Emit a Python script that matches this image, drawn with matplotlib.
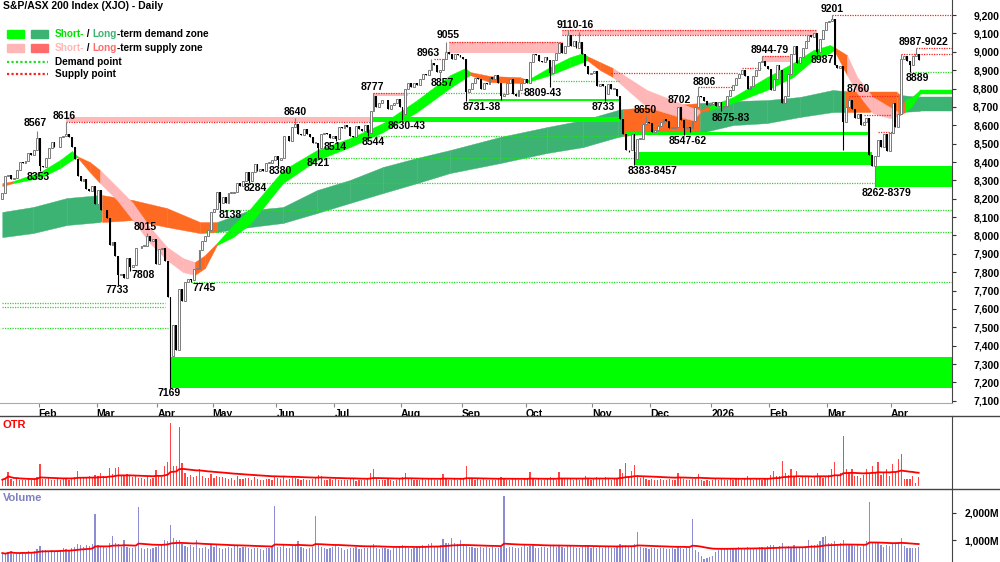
import numpy as np
import pandas as pd
import matplotlib
matplotlib.use('Agg')
import matplotlib.pyplot as plt
from matplotlib.patches import Rectangle
from matplotlib.lines import Line2D

plt.rcParams['font.family'] = ['Liberation Sans', 'DejaVu Sans']

# ---- trading calendar (ASX) ----
asx_holidays = ['2025-01-27', '2025-04-18', '2025-04-21', '2025-04-25', '2025-06-09',
                '2025-12-25', '2025-12-26', '2026-01-01', '2026-01-26', '2026-04-03', '2026-04-06']
dates = pd.bdate_range('2025-01-14', '2026-04-16')
dates = dates[~dates.isin(pd.to_datetime(asx_holidays))]

# ---- daily closes, month by month ----
jan25 = [8230, 8326, 8330, 8310, 8315, 8357, 8401, 8396, 8408, 8447, 8436, 8466, 8532]
feb25 = [8379, 8374, 8422, 8477, 8511, 8484, 8482, 8535, 8540, 8555, 8538, 8481, 8419, 8322, 8296,
         8307, 8251, 8240, 8269, 8172]
mar25 = [8245, 8141, 8140, 8095, 7948, 7963, 7890, 7786, 7789, 7770, 7880, 7830, 7840, 7933, 7931,
         7942, 7943, 7999, 7969, 7982, 7843]
apr25 = [7925, 7934, 7859, 7667, 7343, 7510, 7375, 7709, 7646, 7749, 7762, 7758, 7819, 7820, 7920,
         7969, 7997, 8031, 8126]
may25 = [8145, 8238, 8179, 8207, 8178, 8231, 8231, 8234, 8283, 8267, 8297, 8343, 8296, 8344, 8387,
         8350, 8361, 8352, 8395, 8395, 8409, 8434]
jun25 = [8411, 8423, 8541, 8539, 8515, 8588, 8608, 8550, 8548, 8581, 8550, 8535, 8504, 8505, 8474,
         8555, 8559, 8550, 8530, 8542]
jul25 = [8524, 8590, 8587, 8603, 8590, 8541, 8538, 8595, 8580, 8571, 8600, 8560, 8680, 8760, 8700,
         8720, 8740, 8738, 8690, 8710, 8720, 8742, 8700]
aug25 = [8662, 8800, 8830, 8810, 8830, 8820, 8850, 8880, 8875, 8900, 8940, 8930, 8890, 8900, 8960,
         9000, 8990, 8960, 8990, 8980, 8970]
sep25 = [8960, 8780, 8800, 8830, 8860, 8850, 8800, 8830, 8825, 8865, 8850, 8875, 8830, 8760, 8770,
         8830, 8850, 8770, 8760, 8790, 8830, 8850]
oct25 = [8828, 8945, 8988, 8983, 8952, 8945, 8970, 8958, 8882, 8955, 8995, 9050, 8995, 9032, 9094,
         9030, 9059, 9019, 9055, 8990, 8923, 8879, 8882]
nov25 = [8894, 8814, 8827, 8813, 8770, 8822, 8799, 8800, 8757, 8634, 8552, 8467, 8463, 8555, 8417,
         8526, 8526, 8607, 8617, 8614]
dec25 = [8565, 8575, 8595, 8620, 8634, 8624, 8585, 8585, 8592, 8697, 8630, 8585, 8588, 8585, 8621,
         8699, 8762, 8754, 8730, 8711, 8714]
jan26 = [8728, 8705, 8725, 8700, 8705, 8760, 8790, 8820, 8860, 8880, 8900, 8870, 8800, 8815, 8870,
         8900, 8945, 8950, 8925, 8905]
feb26 = [8790, 8850, 8930, 8900, 8720, 8760, 8880, 8990, 9030, 8940, 8970, 9020, 9060, 9090, 9080,
         9100, 9000, 9070, 9120, 9160]
mar26 = [9170, 9180, 8930, 8910, 8920, 8620, 8700, 8735, 8690, 8640, 8660, 8600, 8620, 8640, 8440,
         8380, 8430, 8520, 8480, 8550, 8460, 8560]
apr26 = [8720, 8590, 8660, 8960, 8975, 8950, 8930, 8975, 8990, 8955]
first_open = 8200

# labelled extremes (bar index -> price)
highs = {12: 8567, 22: 8616, 50: 8015, 101: 8640, 128: 8777, 148: 8963, 153: 9055, 195: 9116,
         199: 9110, 222: 8650, 233: 8702, 240: 8806, 262: 8979, 286: 9201, 292: 8760, 310: 8987, 315: 9022}
lows = {13: 8353, 40: 7733, 44: 7808, 58: 7169, 65: 7745, 75: 8138, 85: 8284, 95: 8380, 109: 8421,
        115: 8514, 126: 8544, 138: 8630, 151: 8857, 160: 8731, 172: 8738, 189: 8809, 208: 8733,
        216: 8457, 218: 8383, 235: 8547, 237: 8562, 248: 8675, 249: 8683, 281: 8987, 290: 8465,
        301: 8262, 313: 8889}

# ---- OTR (true range, points) ----
otr = (
    [55, 70, 120, 60, 45, 65, 50, 55, 48, 60, 52, 58, 75] +
    [190, 62, 58, 66, 55, 50, 60, 48, 58, 72, 55, 68, 80, 130, 75, 66, 70, 85, 78, 95] +
    [90, 110, 85, 80, 155, 100, 155, 165, 95, 88, 105, 90, 75, 88, 70, 65, 60, 78, 62, 70, 140] +
    [95, 80, 170, 205, 540, 170, 170, 505, 195, 110, 80, 95, 75, 90, 145, 85, 70, 65, 100] +
    [70, 90, 75, 80, 68, 60, 72, 55, 85, 62, 58, 70, 66, 50, 75, 60, 55, 48, 62, 58, 52, 80] +
    [65, 58, 90, 55, 60, 72, 68, 60, 50, 62, 55, 48, 58, 66, 95, 85, 52, 48, 60, 55] +
    [60, 55, 50, 48, 52, 62, 58, 45, 50, 55, 48, 60, 110, 145, 70, 55, 50, 48, 65, 52, 45, 50, 68] +
    [75, 110, 65, 58, 50, 55, 48, 60, 52, 58, 66, 50, 55, 62, 100, 70, 55, 48, 60, 52, 58] +
    [60, 170, 70, 62, 55, 58, 50, 62, 48, 55, 52, 50, 58, 80, 60, 55, 48, 70, 62, 50, 55, 60] +
    [65, 120, 60, 52, 58, 50, 55, 62, 75, 60, 55, 120, 62, 58, 66, 70, 55, 60, 52, 68, 85, 70, 55] +
    [58, 75, 62, 55, 80, 68, 55, 60, 70, 145, 110, 195, 90, 130, 180, 95, 70, 85, 60, 55] +
    [62, 55, 50, 58, 52, 48, 60, 50, 55, 110, 70, 62, 55, 50, 60, 58, 100, 48, 45, 52, 40] +
    [50, 58, 55, 62, 48, 55, 60, 52, 58, 66, 55, 70, 85, 60, 55, 62, 58, 50, 65, 60] +
    [95, 130, 85, 90, 215, 110, 95, 150, 80, 125, 70, 85, 90, 75, 60, 82, 110, 78, 70, 85] +
    [95, 150, 205, 90, 110, 430, 150, 120, 150, 85, 90, 70, 95, 150, 110, 170, 120, 205, 95, 110, 145, 90] +
    [190, 120, 230, 275, 60, 62, 58, 85, 25, 75]
)

# ---- volume (millions) ----
volume = (
    [520, 480, 560, 610, 470, 490, 520, 560, 500, 580, 540, 600, 680] +
    [780, 640, 620, 600, 650, 580, 610, 640, 700, 680, 620, 720, 760, 840, 820, 760, 800, 780, 860, 1960] +
    [820, 780, 760, 720, 880, 1150, 900, 850, 760, 1000, 760, 720, 700, 740, 2230, 700, 680, 720, 660, 700, 760] +
    [780, 820, 1000, 960, 1540, 1080, 1000, 1020, 860, 780, 760, 820, 740, 1000, 700, 720, 760, 680, 800] +
    [760, 820, 700, 680, 720, 740, 690, 780, 800, 720, 760, 740, 700, 660, 720, 700, 680, 640, 700, 720, 760, 2270] +
    [760, 740, 800, 720, 700, 780, 820, 960, 740, 700, 680, 720, 760, 1880, 800, 760, 700, 680, 720, 740] +
    [820, 760, 700, 640, 660, 720, 700, 740, 680, 660, 700, 720, 780, 840, 700, 680, 720, 700, 660, 640, 700, 720, 760] +
    [820, 760, 700, 680, 720, 760, 740, 800, 780, 840, 880, 760, 780, 820, 1050, 900, 880, 1080, 900, 860, 1000] +
    [820, 780, 760, 740, 720, 700, 760, 720, 740, 700, 760, 720, 700, 740, 2620, 720, 760, 740, 700, 720, 760, 800] +
    [760, 780, 800, 720, 700, 760, 740, 720, 780, 800, 760, 780, 740, 720, 820, 780, 760, 720, 700, 760, 800, 780, 720] +
    [760, 720, 740, 700, 760, 780, 720, 700, 740, 860, 800, 820, 760, 780, 840, 1310, 760, 720, 700, 680] +
    [720, 700, 680, 700, 720, 680, 660, 700, 680, 760, 700, 680, 720, 700, 1770, 620, 560, 420, 300, 340, 360] +
    [420, 560, 640, 680, 660, 700, 680, 720, 700, 740, 680, 700, 760, 720, 700, 680, 740, 760, 720, 780] +
    [820, 800, 760, 780, 900, 760, 780, 740, 800, 760, 720, 740, 780, 1000, 820, 800, 860, 980, 1100, 1150] +
    [900, 880, 960, 860, 900, 1000, 860, 820, 800, 780, 820, 760, 800, 980, 2420, 900, 920, 880, 800, 760, 820, 780] +
    [860, 900, 940, 1080, 780, 720, 700, 690, 700, 750]
)

# ---- trend ribbons sampled along the bars: (bar, upper, lower), state of segment that starts there ----
short_i = [0, 3.7, 13, 19.9, 24, 25.8, 30.2, 33.7, 39.6, 45, 50.9, 56.8, 62.3, 66.4, 69.9, 74, 79.6, 85.4,
           96.8, 108.5, 119.9, 131.3, 143, 154.4, 159.6, 161.3, 168.2, 178.5, 181, 188.9, 195.8, 200.2,
           201.6, 206.1, 210.6, 222.3, 233.7, 238.2, 240.6, 244, 252, 263.7, 272.7, 279.6, 285.4, 286.8,
           291.3, 294.8, 300.2, 306.1, 308.9, 311.3, 313.7, 316.4, 327.5]
short_top = [8285, 8296, 8345, 8411, 8460, 8432, 8400, 8356, 8264, 8177, 8046, 7937, 7877, 7855, 7893,
             7959, 8057, 8144, 8356, 8465, 8530, 8612, 8737, 8873, 8911, 8890, 8868, 8862, 8846, 8917,
             8971, 8993, 8977, 8944, 8911, 8792, 8721, 8694, 8683, 8705, 8754, 8862, 8939, 9009, 9037,
             9026, 8982, 8862, 8754, 8699, 8672, 8737, 8754, 8792, 8792]
short_bot = [8269, 8285, 8313, 8367, 8411, 8427, 8345, 8285, 8193, 8084, 7959, 7866, 7801, 7785, 7823,
             7948, 7991, 8062, 8285, 8411, 8481, 8563, 8672, 8803, 8857, 8873, 8835, 8830, 8835, 8873,
             8917, 8944, 8955, 8901, 8862, 8699, 8645, 8628, 8672, 8683, 8721, 8792, 8862, 8955, 8993,
             9009, 8873, 8775, 8666, 8639, 8650, 8672, 8705, 8770, 8770]
short_state = "TDDDDTTSSSSSSTTDDDDDDDDDDTTTDDDDTTSSSSTDDDDDDTSSSSTDDD"

long_i = [0, 10.6, 22.3, 33.7, 34.4, 45, 56.8, 68.2, 74, 85.4, 96.8, 108.5, 119.9, 131.3, 143, 154.4,
          171.6, 187.8, 200.2, 212.3, 214, 223.3, 240.6, 252, 263.7, 275, 286.4, 290.6, 299.2, 308.5,
          309.6, 316.4, 327.5]
long_top = [8128, 8155, 8204, 8220, 8220, 8193, 8149, 8073, 8073, 8138, 8155, 8247, 8302, 8373, 8422,
            8465, 8536, 8590, 8628, 8683, 8688, 8699, 8721, 8732, 8737, 8754, 8792, 8786, 8781, 8781,
            8765, 8754, 8754]
long_bot = [7991, 8013, 8057, 8073, 8073, 8084, 8046, 8013, 8019, 8046, 8068, 8122, 8177, 8231, 8285,
            8340, 8394, 8449, 8481, 8536, 8541, 8558, 8558, 8601, 8612, 8645, 8672, 8672, 8672, 8672,
            8672, 8678, 8678]
long_state = "DDDDSSSSDDDDDDDDDDDDSSDDDDDSSSDD"

# ---- zones and points: (low, high, first bar, last bar or None = open) ----
demand_zones = [(7169, 7340, 58, None), (8620, 8645, 128, 213), (8731, 8745, 161, 213),
                (8383, 8457, 218, 300), (8547, 8562, 215, 299), (8262, 8379, 301, None)]
supply_zones = [(8616, 8645, 22, 128, 8616), (8760, 8777, 128, 140, 8777), (8993, 9055, 154, 193, 9055),
                (9090, 9116, 193, 281, 9116), (8944, 8979, 262, 272, 8979)]
demand_points = [(8284, 85, 301), (8138, 75, None), (8020, 70, None), (7745, 65, None),
                 (7632, 0, 56), (7610, 0, 56), (7496, 0, 57), (8421, 109, 218), (8544, 126, 213),
                 (8777, 140, 180), (8843, 190, 213), (8889, 313, None)]
supply_points = [(8963, 149, 153), (8884, 210, 254), (8806, 240, 252), (8910, 255, 262), (9201, 286, None),
                 (8760, 292, 309), (8656, 297, 309), (8563, 302, 308), (8987, 310, None), (9022, 315, None),
                 (9090, 193, 281)]

labels = [("8567", 11.3, 8612), ("8616", 21.3, 8650), ("8353", 12.3, 8318), ("8015", 49.2, 8046),
          ("7808", 48.5, 7785), ("7733", 39.5, 7705), ("7745", 69.6, 7714), ("7169", 57.5, 7142),
          ("8138", 78.5, 8111), ("8284", 87.1, 8258), ("8380", 95.8, 8351), ("8421", 108.9, 8394),
          ("8514", 114.7, 8481), ("8640", 100.9, 8672), ("8544", 127.8, 8509), ("8777", 127.5, 8808),
          ("8630-43", 139.6, 8596), ("8963", 146.8, 8993), ("8857", 151.6, 8830), ("9055", 153.7, 9091),
          ("8731-38", 165.4, 8699), ("8809-43", 186.4, 8775), ("9110-16", 197.5, 9146), ("8733", 207.1, 8699),
          ("8383-8457", 224.4, 8351), ("8650", 221.6, 8683), ("8702", 233.3, 8737), ("8547-62", 236.4, 8514),
          ("8806", 242.0, 8835), ("8675-83", 251.3, 8639), ("8944-79", 264.7, 9009), ("8987", 282.7, 8955),
          ("9201", 286.1, 9233), ("8760", 295.0, 8797), ("8262-8379", 305.0, 8231),
          ("8987-9022", 317.8, 9053), ("8889", 315.4, 8857)]

close = np.array(jan25 + feb25 + mar25 + apr25 + may25 + jun25 + jul25 + aug25 + sep25 + oct25 +
                 nov25 + dec25 + jan26 + feb26 + mar26 + apr26, dtype=float)
assert len(close) == len(dates) == len(otr) == len(volume)
n = len(close)
x = np.arange(n)
opens = np.r_[first_open, close[:-1]]
hi = np.maximum(opens, close)
lo = np.minimum(opens, close)
for k, v in highs.items():
    hi[k] = v
for k, v in lows.items():
    lo[k] = v

BRIGHT = '#00FF00'
DARK = '#3DB373'
PINK = '#FFB6B6'
ORANGE = '#FF6A22'
SALMON = '#FF6B6B'
XL, XR = -0.79, 327.5

fig = plt.figure(figsize=(10, 5.62), dpi=100)
ax = fig.add_axes([0, 1 - 403 / 562, 0.952, 403 / 562])
ax_otr = fig.add_axes([0, 73 / 562, 0.952, 73 / 562])
ax_vol = fig.add_axes([0, 0, 0.952, 73 / 562])

# ribbons
def ribbon(ii, top, bot, state, colors, z):
    for k in range(len(ii) - 1):
        ax.fill_between(ii[k:k + 2], top[k:k + 2], bot[k:k + 2], color=colors[state[k]],
                        lw=0.3, zorder=z)

ribbon(long_i, long_top, long_bot, long_state, {'D': DARK, 'S': ORANGE}, 1)
ribbon(short_i, short_top, short_bot, short_state, {'D': BRIGHT, 'S': PINK, 'T': ORANGE}, 2)

for lo_, hi_, s, e in demand_zones:
    e = XR if e is None else e
    ax.add_patch(Rectangle((s, lo_), e - s, hi_ - lo_, color=BRIGHT, lw=0, zorder=2.2))
for lo_, hi_, s, e, ln in supply_zones:
    e = XR if e is None else e
    ax.add_patch(Rectangle((s, lo_), e - s, hi_ - lo_, color='#FFB8B8', lw=0, zorder=2.2))
    ax.hlines(ln, s, e, colors='#FF2020', linestyles=(0, (1, 1)), lw=0.9, zorder=2.5)
for p, s, e in demand_points:
    ax.hlines(p, s, XR if e is None else e, colors='#22DD22', linestyles=(0, (1, 1)), lw=0.9, zorder=2.5)
for p, s, e in supply_points:
    ax.hlines(p, s, XR if e is None else e, colors='#FF2020', linestyles=(0, (1, 1)), lw=0.9, zorder=2.5)

# candles
up = close >= opens
ax.vlines(x[up], lo[up], hi[up], color='#808080', lw=0.8, zorder=4)
ax.vlines(x[~up], lo[~up], hi[~up], color='black', lw=0.8, zorder=4)
body = np.where(np.abs(close - opens) < 4, 4, close - opens)
ax.bar(x[up], body[up], bottom=opens[up], width=0.66, facecolor='white', edgecolor='#7a7a7a',
       lw=0.7, zorder=5)
ax.bar(x[~up], (close - opens)[~up], bottom=opens[~up], width=0.66, color='black', lw=0, zorder=5)

for t, i, p in labels:
    ax.text(i, p, t, ha='center', va='center', fontsize=7.5, fontweight='bold', zorder=6)

ax.set_xlim(XL, XR)
ax.set_ylim(7088, 9282)
ax.yaxis.tick_right()
ax.set_yticks(np.arange(7100, 9201, 100))
ax.set_yticklabels([f'{v:,}' for v in range(7100, 9201, 100)], fontsize=7.5, fontweight='bold')
for lab in ax.get_yticklabels():
    lab.set_horizontalalignment('right')
ax.tick_params(axis='y', direction='out', length=3, pad=31, colors='#333333', labelcolor='black')

# months
pos = pd.Series(x, index=dates)
starts = pos.groupby([dates.year, dates.month]).first().iloc[1:]
mticks = starts.values
mlabels = ['2026' if (yy == 2026 and mm == 1) else pd.Timestamp(yy, mm, 1).strftime('%b')
           for yy, mm in starts.index]
ax.set_xticks(mticks - 0.5)
ax.set_xticklabels(mlabels, fontsize=7.5, fontweight='bold', ha='left')
ax.tick_params(axis='x', direction='out', length=3, pad=1, colors='#888888', labelcolor='black')
for s in ['left', 'top']:
    ax.spines[s].set_visible(False)
ax.spines['bottom'].set_color('#aaaaaa')
ax.spines['right'].set_color('#444444')

# OTR panel
otr_s = pd.Series(otr, dtype=float)
ax_otr.bar(x, otr, width=0.42, color='#FF4444', lw=0)
ax_otr.plot(x, otr_s.ewm(span=40).mean(), color='#FF0000', lw=1.3)
ax_otr.set_xlim(XL, XR)
ax_otr.set_ylim(-25, 600)
ax_otr.set_xticks([])
ax_otr.set_yticks([])
ax_otr.text(0.003, 0.88, 'OTR', transform=ax_otr.transAxes, color='#FF0000', fontsize=8,
            fontweight='bold', va='center')

# Volume panel
vol_s = pd.Series(volume, dtype=float)
ax_vol.bar(x, volume, width=0.42, color='#8C8CD2', lw=0)
ax_vol.plot(x, vol_s.ewm(span=40).mean(), color='#FF0000', lw=1.3)
ax_vol.set_xlim(XL, XR)
ax_vol.set_ylim(190, 2885)
ax_vol.set_xticks([])
ax_vol.yaxis.tick_right()
ax_vol.set_yticks([1000, 2000])
ax_vol.set_yticklabels(['1,000M', '2,000M'], fontsize=7.5, fontweight='bold')
for lab in ax_vol.get_yticklabels():
    lab.set_horizontalalignment('right')
ax_vol.tick_params(axis='y', direction='out', length=3, pad=31, colors='#333333', labelcolor='black')
ax_vol.text(0.003, 0.88, 'Volume', transform=ax_vol.transAxes, color='#8080C0', fontsize=8,
            fontweight='bold', va='center')

for a in (ax_otr, ax_vol):
    for s in ['left', 'top', 'bottom']:
        a.spines[s].set_visible(False)
    a.spines['right'].set_color('#444444')

for yp in (416, 489):
    fig.add_artist(Line2D([0, 1], [1 - yp / 562] * 2, color='#444444', lw=1))

# title and legend
def fx(px):
    return px / 1000

def fy(py):
    return 1 - py / 562

fig.text(fx(3), fy(6), 'S&P/ASX 200 Index (XJO) - Daily', fontsize=7.5, fontweight='bold', va='center')
legend_rows = [
    (34, BRIGHT, DARK, [('Short-', '#00E000'), (' / ', 'black'), ('Long', DARK), ('-term demand zone', 'black')]),
    (48, PINK, SALMON, [('Short-', PINK), (' / ', 'black'), ('Long', SALMON), ('-term supply zone', 'black')]),
]
for yy, c1, c2, parts in legend_rows:
    fig.add_artist(Rectangle((fx(7), fy(yy + 4)), fx(17), 8 / 562, color=c1, transform=fig.transFigure))
    fig.add_artist(Rectangle((fx(31), fy(yy + 4)), fx(17), 8 / 562, color=c2, transform=fig.transFigure))
    prev = fig.text(fx(55), fy(yy), parts[0][0], color=parts[0][1], fontsize=7.2, fontweight='bold',
                    va='center')
    for txt, col in parts[1:]:
        prev = ax.annotate(txt, xy=(1, 0), xycoords=prev, va='bottom', ha='left', color=col,
                           fontsize=7.2, fontweight='bold', annotation_clip=False)
for yy, col, txt in [(62, '#22DD22', 'Demand point'), (74, '#FF2020', 'Supply point')]:
    fig.add_artist(Line2D([fx(7), fx(48)], [fy(yy)] * 2, color=col, lw=1.6, linestyle=(0, (1, 1)),
                          transform=fig.transFigure))
    fig.text(fx(55), fy(yy), txt, fontsize=7.2, fontweight='bold', va='center')

fig.savefig('out.png', dpi=100)
